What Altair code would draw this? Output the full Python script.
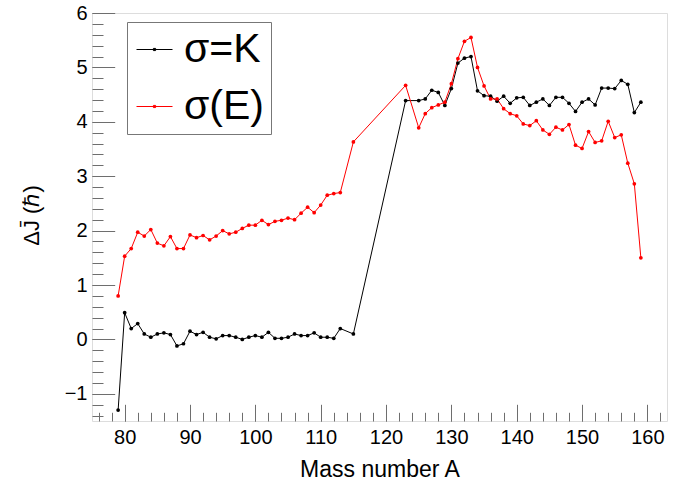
import altair as alt
import pandas as pd

# Mass numbers (shared by both series)
mass_A = list(range(79, 114)) + [115, 123] + list(range(125, 160))

# sigma = K series
dj_K = [-1.30, 0.49, 0.20, 0.29, 0.10, 0.04, 0.10, 0.12, 0.09, -0.12,
        -0.08, 0.15, 0.09, 0.13, 0.04, 0.01, 0.07, 0.07, 0.04, 0.00,
        0.04, 0.07, 0.04, 0.13, 0.02, 0.02, 0.04, 0.10, 0.07, 0.07,
        0.12, 0.04, 0.04, 0.02, 0.20, 0.10, 4.39, 4.39, 4.42, 4.58,
        4.54, 4.30, 4.61, 5.08, 5.17, 5.20, 4.57, 4.48, 4.47, 4.38,
        4.47, 4.34, 4.44, 4.45, 4.30, 4.36, 4.42, 4.30, 4.45, 4.45,
        4.34, 4.19, 4.36, 4.42, 4.31, 4.62, 4.62, 4.61, 4.76, 4.69,
        4.17, 4.36]

# sigma(E) series
dj_E = [0.80, 1.53, 1.67, 1.97, 1.90, 2.02, 1.77, 1.72, 1.89, 1.67,
        1.67, 1.92, 1.87, 1.91, 1.83, 1.90, 2.00, 1.94, 1.97, 2.04,
        2.10, 2.10, 2.19, 2.11, 2.17, 2.19, 2.23, 2.20, 2.32, 2.43,
        2.33, 2.47, 2.65, 2.68, 2.70, 3.63, 4.67, 3.89, 4.15, 4.26,
        4.31, 4.36, 4.70, 5.16, 5.48, 5.55, 5.00, 4.66, 4.42, 4.42,
        4.24, 4.15, 4.11, 3.96, 3.93, 4.02, 3.85, 3.77, 3.90, 3.85,
        3.95, 3.57, 3.51, 3.82, 3.62, 3.65, 4.01, 3.71, 3.76, 3.24,
        2.86, 1.50]

series_names = ["σ=K", "σ(E)"]
series_colors = ["#000000", "#ff0000"]

x_major = list(range(80, 161, 10))
x_minor = list(range(76, 163, 2))
y_major = list(range(-1, 7))
y_minor = [round(-1.4 + 0.2 * i, 1) for i in range(38)]

df = pd.DataFrame({
    "A": mass_A + mass_A,
    "dJ": dj_K + dj_E,
    "s": [series_names[0]] * len(mass_A) + [series_names[1]] * len(mass_A),
})

W, H = 575, 408
FONT = "Liberation Sans"
AX = "#6e6e6e"

xs = alt.Scale(domain=[75, 163], nice=False, zero=False)
ys = alt.Scale(domain=[-1.5, 6], nice=False, zero=False)
cs = alt.Scale(domain=series_names, range=series_colors)

legend = alt.Legend(
    title=None, orient="none", legendX=35, legendY=9,
    symbolType="M-1,0H1M-0.06,-0.06H0.06V0.06H-0.06Z",
    symbolSize=1296, symbolStrokeWidth=1,
    labelFontSize=41, labelFont=FONT, labelColor="#000000",
    labelOffset=9, rowPadding=15, padding=7,
    strokeColor="#777777", fillColor="#ffffff",
    labelExpr="datum.label + '" + "\u00a0" * 9 + "'",
)

base = alt.Chart(df)

lines = base.mark_line(strokeWidth=1).encode(
    x=alt.X("A:Q", scale=xs, axis=alt.Axis(
        title="Mass number A", values=x_major, format="d",
        ticks=False, tickSize=0, domain=False, grid=False,
        labelFont=FONT, labelFontSize=20, labelColor="#000000", labelPadding=6,
        titleFont=FONT, titleFontSize=23, titleFontWeight="normal", titleColor="#000000",
        titleX=287.5, titleY=55, titleBaseline="alphabetic", titleAnchor="middle")),
    y=alt.Y("dJ:Q", scale=ys, axis=alt.Axis(
        title="ΔJ̄ (ℏ)", values=y_major, format="d",
        ticks=False, tickSize=0, domain=False, grid=False,
        labelFont=FONT, labelFontSize=20, labelColor="#000000", labelPadding=5,
        titleFont=FONT, titleFontSize=22, titleFontWeight="normal", titleColor="#000000",
        titleX=-61, titleY=202, titleAngle=-90, titleBaseline="middle", titleAnchor="middle")),
    color=alt.Color("s:N", scale=cs, sort=series_names, legend=legend),
    order="A:Q",
)

points = base.mark_circle(size=14, opacity=1).encode(
    x=alt.X("A:Q", scale=xs, axis=alt.Axis(
        orient="top", offset=-H, values=x_major, labels=False, title=None,
        domain=False, grid=False, ticks=True, tickSize=16.7, tickColor=AX, tickWidth=1)),
    y=alt.Y("dJ:Q", scale=ys, axis=alt.Axis(
        orient="right", offset=-W, values=y_major, labels=False, title=None,
        domain=False, grid=False, ticks=True, tickSize=22.7, tickColor=AX, tickWidth=1)),
    color=alt.Color("s:N", scale=cs, legend=None),
)

ghost = base.mark_circle(size=1, opacity=0).encode(
    x=alt.X("A:Q", scale=xs, axis=alt.Axis(
        orient="top", offset=-H, values=x_minor, labels=False, title=None,
        domain=False, grid=False, ticks=True, tickSize=8.7, tickColor=AX, tickWidth=1)),
    y=alt.Y("dJ:Q", scale=ys, axis=alt.Axis(
        orient="right", offset=-W, values=y_minor, labels=False, title=None,
        domain=False, grid=False, ticks=True, tickSize=11, tickColor=AX, tickWidth=1)),
)

chart = alt.layer(lines, points, ghost).resolve_axis(
    x="independent", y="independent"
).properties(
    width=W, height=H,
    autosize=alt.AutoSizeParams(type="none"),
    padding={"left": 92, "top": 13, "right": 24, "bottom": 64},
).configure_view(
    stroke="#666666", strokeWidth=1
).configure(background="#ffffff")

chart.save("out.html", embed_options={"renderer": "svg", "actions": False})
